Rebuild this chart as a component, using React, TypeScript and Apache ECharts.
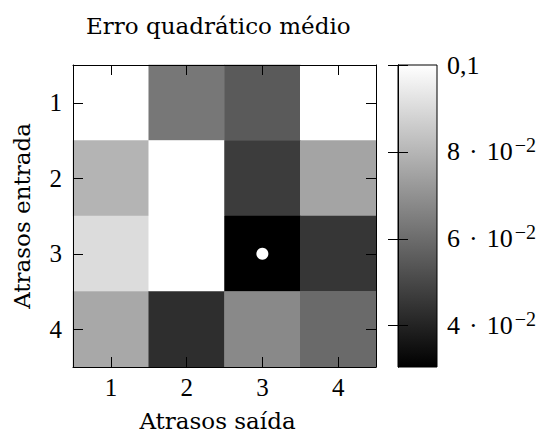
import React, { useEffect, useRef } from "react";
import * as echarts from "echarts";

const xCategories = ["1", "2", "3", "4"];
const yCategories = ["1", "2", "3", "4"];
// rows: Atrasos entrada 1..4, columns: Atrasos saída 1..4
const row1 = [0.1, 0.0629, 0.055, 0.1];
const row2 = [0.0796, 0.1, 0.0469, 0.0752];
const row3 = [0.0905, 0.1, 0.0305, 0.0452];
const row4 = [0.0763, 0.043, 0.0678, 0.0594];
const rows = [row1, row2, row3, row4];
const bestPoint = ["3", "3"];
const colorMin = 0.0305;
const colorMax = 0.1;
const colorbarTicks = [0.04, 0.06, 0.08, 0.1];

const MATH_FONT = "Liberation Serif";
const TEXT_FONT = "DejaVu Serif";

export default function App() {
  const ref = useRef<HTMLDivElement>(null);
  useEffect(() => {
    if (!ref.current) return;
    const chart = echarts.init(ref.current, undefined, { renderer: "svg" });
    const heat: number[][] = [];
    rows.forEach((r, yi) => r.forEach((v, xi) => heat.push([xi, yi, v])));

    const tickStyle = { show: true, inside: true, length: 10, alignWithLabel: true, lineStyle: { color: "#000", width: 1 } };
    const lineStyle = { show: true, lineStyle: { color: "#000", width: 1 } };
    const catLabel = { fontFamily: MATH_FONT, fontSize: 25, color: "#000" };

    const cbFormatter = (v: number) => {
      if (Math.abs(v - 0.1) < 1e-9) return "{b|0,1}";
      const m = Math.round(v * 100);
      return `{b|${m}}{dot|\u00B7}{b|10}{sup|\u22122}`;
    };

    chart.setOption({
      animation: false,
      title: {
        text: "Erro quadrático médio",
        left: 86,
        top: 14,
        padding: 0,
        textStyle: { fontFamily: TEXT_FONT, fontSize: 23, fontWeight: "normal", color: "#000" },
      },
      grid: [
        { left: 73, top: 65, width: 303, height: 302, containLabel: false },
        {
          left: 398, top: 65, width: 39, height: 302, show: true,
          borderColor: "#000", borderWidth: 1,
          backgroundColor: {
            type: "linear", x: 0, y: 0, x2: 0, y2: 1,
            colorStops: [{ offset: 0, color: "#ffffff" }, { offset: 1, color: "#000000" }],
          },
        },
      ],
      xAxis: [
        {
          type: "category", gridIndex: 0, data: xCategories, position: "bottom", z: 5,
          axisLine: lineStyle, axisTick: tickStyle, splitLine: { show: false },
          axisLabel: { ...catLabel, margin: 8 },
          name: "Atrasos saída", nameLocation: "middle", nameGap: 42,
          nameTextStyle: { fontFamily: TEXT_FONT, fontSize: 23, color: "#000", padding: [0, 14, 0, 0] },
        },
        {
          type: "category", gridIndex: 0, data: xCategories, position: "top", z: 5,
          axisLine: lineStyle, axisTick: tickStyle, axisLabel: { show: false }, splitLine: { show: false },
        },
        { type: "value", gridIndex: 1, show: false },
      ],
      yAxis: [
        {
          type: "category", gridIndex: 0, data: yCategories, inverse: true, position: "left", z: 5,
          axisLine: lineStyle, axisTick: tickStyle, splitLine: { show: false },
          axisLabel: { ...catLabel, margin: 11 },
          name: "Atrasos entrada", nameLocation: "middle", nameGap: 40, nameRotate: 90,
          nameTextStyle: { fontFamily: TEXT_FONT, fontSize: 23, color: "#000" },
        },
        {
          type: "category", gridIndex: 0, data: yCategories, inverse: true, position: "right", z: 5,
          axisLine: lineStyle, axisTick: tickStyle, axisLabel: { show: false }, splitLine: { show: false },
        },
        {
          type: "value", gridIndex: 1, min: colorMin, max: colorMax, position: "right", z: 5,
          axisLine: lineStyle, splitLine: { show: false },
          axisTick: { show: true, inside: true, length: 10, customValues: colorbarTicks, lineStyle: { color: "#000", width: 1 } },
          axisLabel: {
            show: true, customValues: colorbarTicks, margin: 10, formatter: cbFormatter,
            fontFamily: MATH_FONT, fontSize: 26, color: "#000",
            showMinLabel: true, showMaxLabel: true,
            rich: {
              b: { fontFamily: MATH_FONT, fontSize: 26, color: "#000", lineHeight: 34, verticalAlign: "middle" },
              dot: { fontFamily: MATH_FONT, fontSize: 26, color: "#000", lineHeight: 34, verticalAlign: "middle", padding: [0, 9, 0, 9] },
              sup: { fontFamily: MATH_FONT, fontSize: 20, color: "#000", lineHeight: 20, verticalAlign: "top", padding: [0, 0, 0, 2] },
            },
          },
        },
        {
          type: "value", gridIndex: 1, min: colorMin, max: colorMax, position: "left", z: 5,
          axisLine: lineStyle, splitLine: { show: false }, axisLabel: { show: false },
          axisTick: { show: true, inside: true, length: 10, customValues: colorbarTicks, lineStyle: { color: "#000", width: 1 } },
        },
      ],
      visualMap: {
        type: "continuous", show: false, seriesIndex: 0, dimension: 2,
        min: colorMin, max: colorMax, inRange: { color: ["#000000", "#ffffff"] },
      },
      series: [
        { type: "heatmap", xAxisIndex: 0, yAxisIndex: 0, data: heat, z: 2, itemStyle: { borderWidth: 0 } },
        {
          type: "scatter", xAxisIndex: 0, yAxisIndex: 0, z: 4, symbol: "circle", symbolSize: 12,
          itemStyle: { color: "#ffffff", opacity: 1 }, data: [bestPoint],
        },
      ],
    });
    return () => chart.dispose();
  }, []);
  return <div ref={ref} style={{ position: "fixed", left: 0, top: 0, width: 539, height: 438, background: "#fff" }} />;
}
